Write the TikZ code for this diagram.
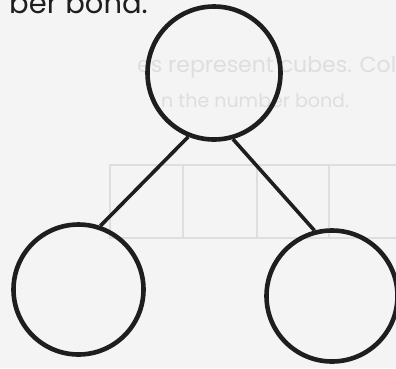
\documentclass[tikz,border=0pt]{standalone}
\usepackage{fontspec}
\setmainfont{Poppins}
\definecolor{ink}{HTML}{1E1E1E}
\definecolor{paper}{HTML}{F4F4F4}
\definecolor{ghost}{HTML}{DEDEDE}
\begin{document}
\begin{tikzpicture}[x=1pt,y=1pt,
  bond/.style={circle,draw=ink,line width=4.6pt,inner sep=0pt,minimum size=#1},
  link/.style={draw=ink,line width=3.6pt},
  ghosttext/.style={text=ghost,inner sep=0pt},
  ghostline/.style={draw=ghost,line width=2pt}]
\useasboundingbox (0,0) rectangle (396,-368);
\fill[paper] (0,0) rectangle (396,-368);
\clip (0,0) rectangle (396,-368);
% faint show-through from the other side of the page
\node[ghosttext,anchor=base west,font=\fontsize{22}{26}\selectfont] (g1) at (137,-72) {es represent cubes. Col};
\node[ghosttext,anchor=base west,font=\fontsize{19}{23}\selectfont] (g2) at (161,-107) {n the number bond.};
\draw[ghostline] (110,-165) rectangle (420,-238);
\draw[ghostline] (183,-165) -- (183,-238);
\draw[ghostline] (257,-165) -- (257,-238);
\draw[ghostline] (329,-165) -- (329,-238);
% heading fragment
\node[anchor=base east,inner sep=0pt,font=\fontsize{29}{32}\selectfont,text=ink] (head) at (148,-13) {ber bond.};
% number bond
\node[bond=133pt] (top) at (214,-73) {};
\node[bond=130pt] (left) at (78.5,-289.5) {};
\node[bond=131pt] (right) at (332,-296) {};
\draw[link] (top.248) -- (left.71);
\draw[link] (top.286) -- (right.105);
\end{tikzpicture}
\end{document}
